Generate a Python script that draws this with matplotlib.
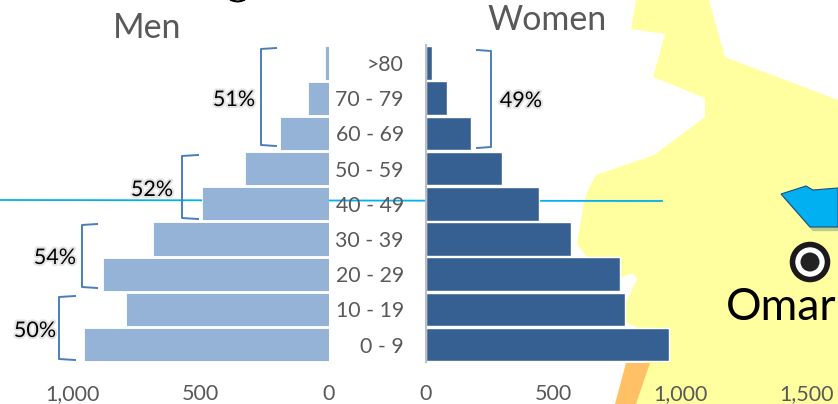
import matplotlib.pyplot as plt
from matplotlib.patches import Polygon, Circle
import matplotlib.patheffects as pe

plt.rcParams['font.family'] = ['Lato', 'DejaVu Sans']

ages = ['0 - 9', '10 - 19', '20 - 29', '30 - 39', '40 - 49', '50 - 59', '60 - 69', '70 - 79', '>80']
men = [953, 790, 879, 685, 494, 327, 191, 82, 16]
women = [958, 782, 765, 572, 446, 300, 177, 81, 22]
men_ticks = [0, 500, 1000]
women_ticks = [0, 500, 1000, 1500]

# (x0, x1, y0, y1) in picture pixels, for the brackets
brackets = [(276, 261, 48, 146), (477, 491, 50, 148), (198, 182, 155, 219),
            (97, 82, 224, 288), (75, 59, 296, 360)]
shares = [('51%', 234, 100), ('49%', 521, 101), ('52%', 152, 190),
          ('54%', 55, 258), ('50%', 35, 331)]

# map bits behind the chart
yellow = [(636, 0), (631, 29), (665, 34), (653, 77), (705, 98), (705, 117), (654, 155),
          (596, 175), (588, 190), (584, 202), (577, 244), (586, 256), (622, 277), (633, 273),
          (637, 279), (626, 303), (626, 322), (636, 327), (645, 363), (630, 404),
          (838, 404), (838, 100), (725, 57), (709, 0)]
orange = [(626, 363), (650, 363), (636, 404), (615, 404)]
blue = [(781, 194), (806, 186), (813, 190), (838, 188), (838, 227), (810, 227)]

W, H = 838, 404
grey = '#595959'


def place(left, right, top, bottom):
    return [left / W, 1 - bottom / H, (right - left) / W, (bottom - top) / H]


fig = plt.figure(figsize=(W / 100, H / 100), dpi=100)

bg = fig.add_axes([0, 0, 1, 1], zorder=0)
bg.set_xlim(0, W)
bg.set_ylim(H, 0)
bg.axis('off')
bg.add_patch(Polygon(yellow, fc='#FFFF9F', ec='none'))
bg.add_patch(Polygon(orange, fc='#FFC066', ec='none'))
bg.add_patch(Polygon(blue, fc='#00B0F0', ec='#1F4E79', lw=0.8,
                     path_effects=[pe.SimplePatchShadow(offset=(2, -3), alpha=0.25), pe.Normal()]))
bg.plot([0, 662], [200, 201], color='#00B0F0', lw=1.3)
bg.plot([231, 234, 238, 241, 244], [0, 1, 1.5, 1, 0], color='black', lw=1.5)

ax_m = fig.add_axes(place(72, 329, 45.4, 362.2), zorder=1)
ax_m.barh(ages, men, height=0.94, color='#95B3D7', edgecolor='white', linewidth=0.6)
ax_m.set_xlim(1000, 0)
ax_m.set_ylim(-0.5, 8.5)
ax_m.set_yticks([])
ax_m.set_xticks(men_ticks)
ax_m.set_xticklabels(['{:,}'.format(t) for t in men_ticks])

ax_w = fig.add_axes(place(426, 807, 45.4, 362.2), zorder=2)
ax_w.barh(ages, women, height=0.96, color='#376092', edgecolor='white', linewidth=1)
ax_w.set_xlim(0, 1500)
ax_w.set_ylim(-0.5, 8.5)
ax_w.set_xticks(women_ticks)
ax_w.set_xticklabels(['{:,}'.format(t) for t in women_ticks])

for ax in (ax_m, ax_w):
    ax.patch.set_alpha(0)
    for s in ax.spines.values():
        s.set_visible(False)
    ax.tick_params(axis='x', length=0, pad=16, labelsize=15.5, labelcolor=grey)
ax_w.tick_params(axis='y', length=0, pad=16, labelsize=15.3, labelcolor=grey)
ax_w.spines['left'].set_visible(True)
ax_w.spines['left'].set_color('#BFBFBF')
ax_w.spines['left'].set_linewidth(1.5)

top = fig.add_axes([0, 0, 1, 1], zorder=3)
top.set_xlim(0, W)
top.set_ylim(H, 0)
top.axis('off')
top.patch.set_alpha(0)

for x0, x1, y0, y1 in brackets:
    top.plot([x0, x1, x1, x0], [y0, y0 + 1, y1 - 1, y1], color='#4A7EBB', lw=1.4)
for txt, x, y in shares:
    top.text(x, y, txt, ha='center', va='center', fontsize=15.5, color='black',
             path_effects=[pe.withStroke(linewidth=3, foreground='#E4E4E4')])

top.text(147, 28, 'Men', ha='center', va='center', fontsize=24.5, color=grey)
top.text(547, 20, 'Women', ha='center', va='center', fontsize=24.5, color=grey)

top.add_patch(Circle((810, 262), 17.5, fc='white', ec='#1A1A1A', lw=4))
top.add_patch(Circle((810, 262), 9.5, fc='#222222', ec='none'))
top.text(781, 307, 'Omar', ha='center', va='center', fontsize=32, color='black')

fig.savefig('out.png', dpi=100)
